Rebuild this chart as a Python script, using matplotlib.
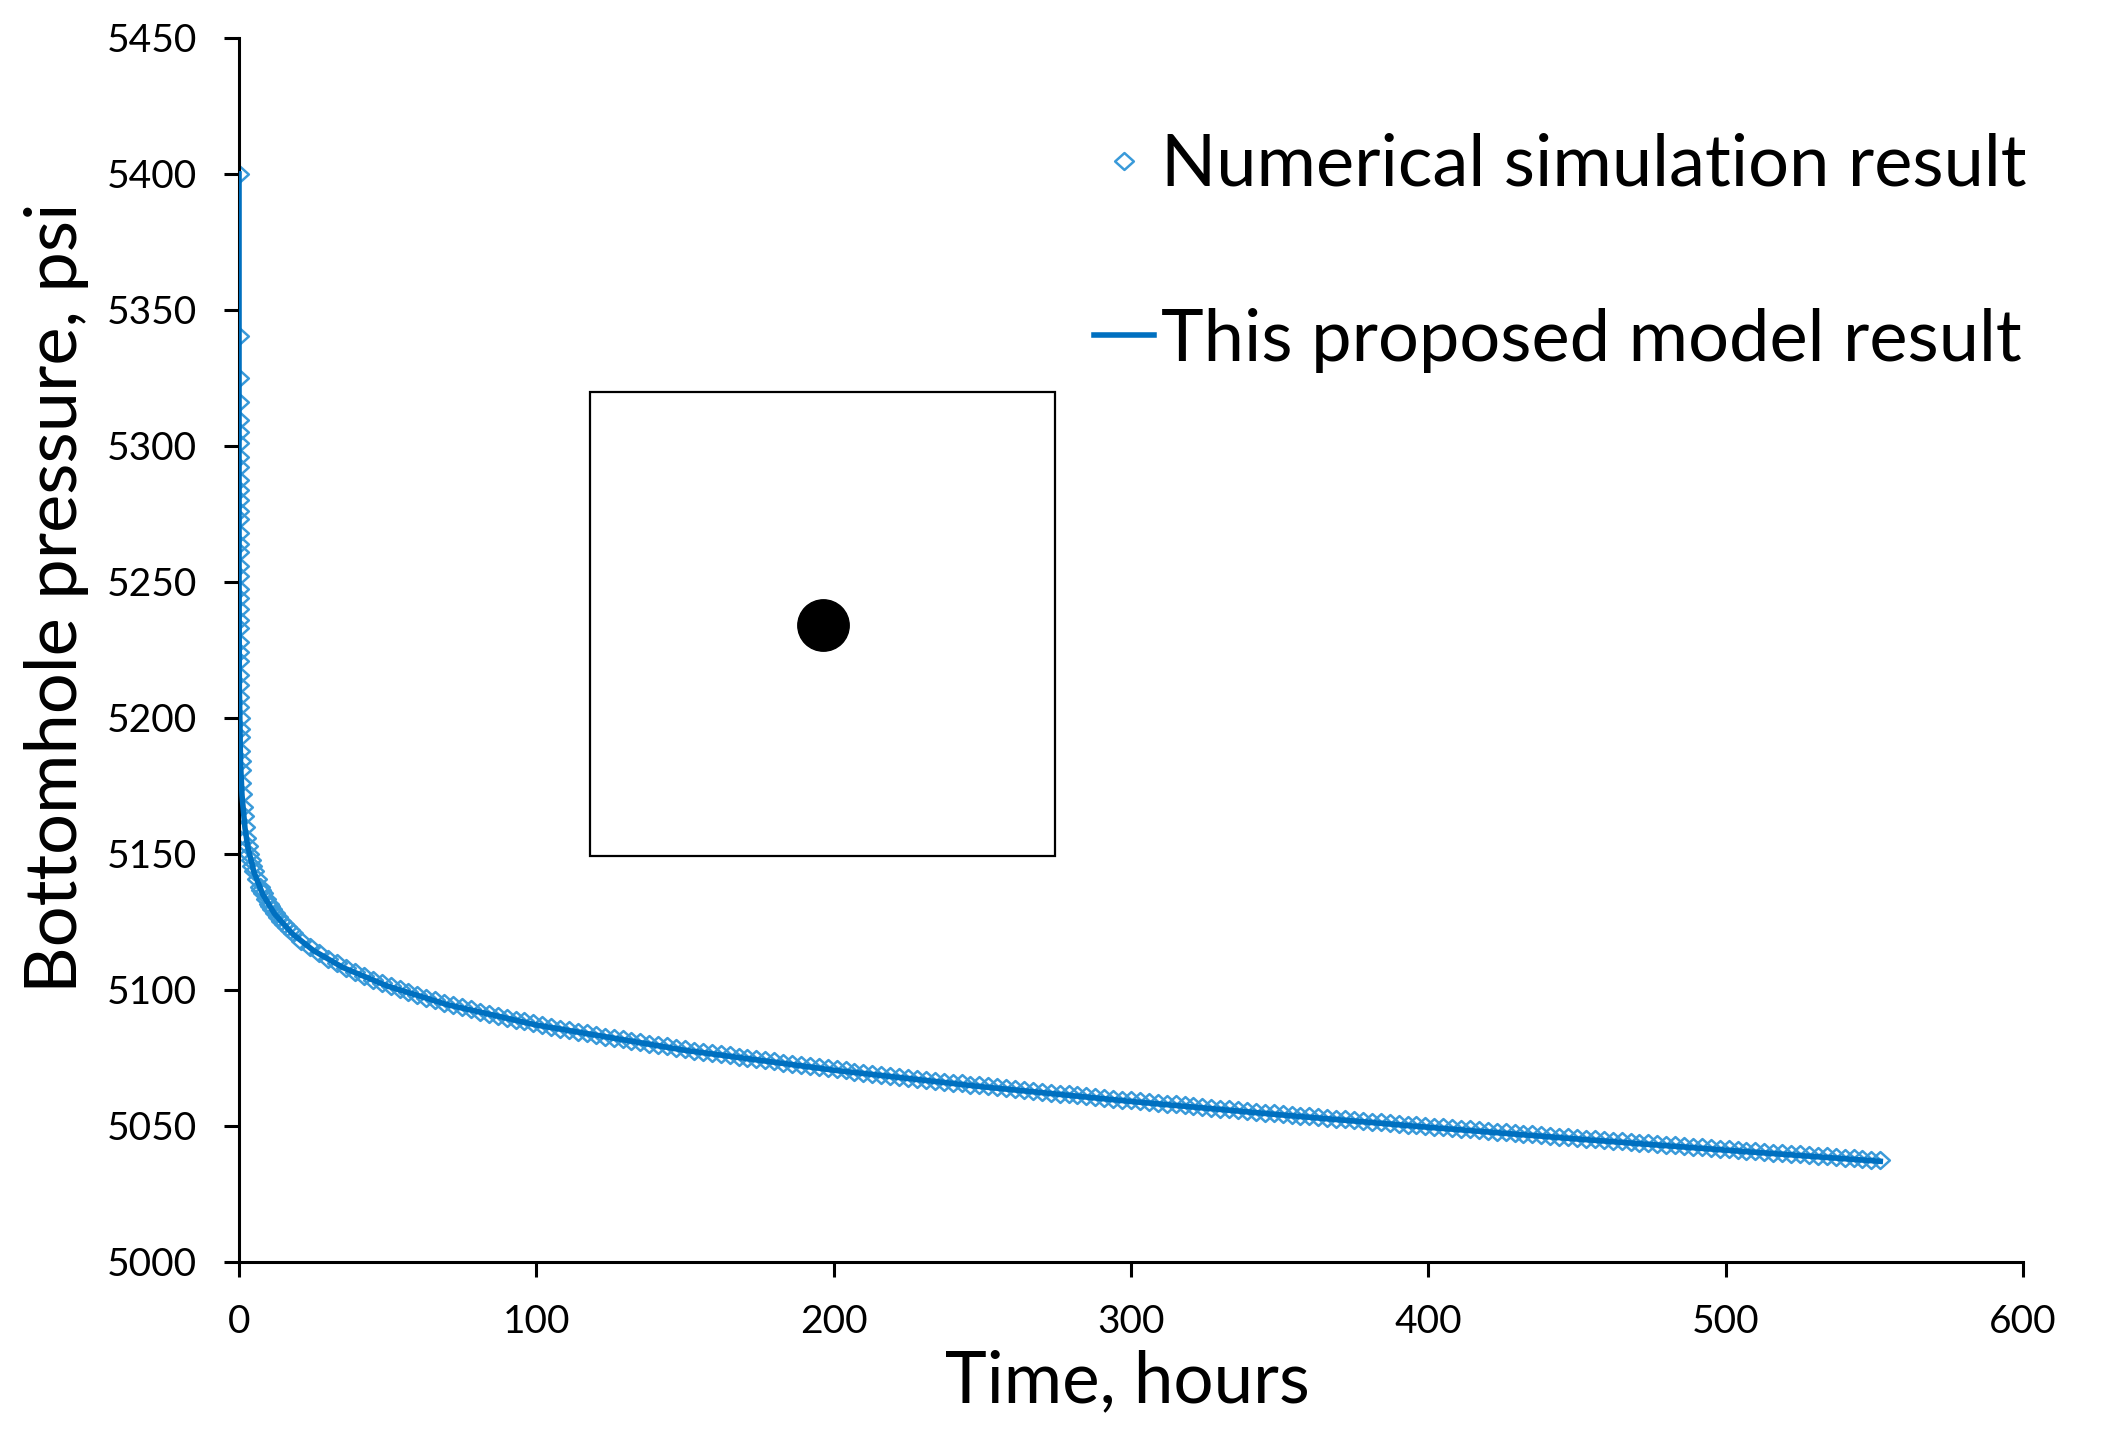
import matplotlib
matplotlib.use("Agg")
import matplotlib.pyplot as plt
from matplotlib.path import Path
from matplotlib.patches import Rectangle

plt.rcParams['font.family'] = ['Lato', 'DejaVu Sans']

# ---------------- data ----------------
# Numerical simulation result (time in hours, bottomhole pressure in psi)
sim_time = [
    0, 0.000062, 0.00015, 0.00025, 0.00036, 0.00048, 0.0006,
    0.0008, 0.001, 0.0013, 0.0016, 0.002, 0.0025, 0.003, 0.004, 0.005, 0.006,
    0.008, 0.01, 0.013, 0.016, 0.02, 0.025, 0.03, 0.04, 0.05, 0.06, 0.08, 0.1,
    0.13, 0.16, 0.2, 0.25, 0.3, 0.4, 0.5, 0.6, 0.8, 1.0, 1.3, 1.6, 2.0, 2.5,
    3, 3.5, 4, 4.5, 5, 6, 7, 7.5, 8, 9, 10, 10.5, 11, 12, 13, 14, 15, 16, 17,
    18, 21, 24, 27, 30, 33, 36, 39, 42, 45, 48, 51, 54, 57, 60,
    63, 66, 69, 72, 75, 78, 81, 84, 87, 90, 93, 96, 99, 102, 105, 108, 111, 114,
    117, 120, 123, 126, 129, 132, 135, 138, 141, 144, 147, 150, 153, 156, 159,
    162, 165, 168, 171, 174, 177, 180, 183, 186, 189, 192, 195, 198, 201, 204,
    207, 210, 213, 216, 219, 222, 225, 228, 231, 234, 237, 240, 243, 246, 249,
    252, 255, 258, 261, 264, 267, 270, 273, 276, 279, 282, 285, 288, 291, 294,
    297, 300, 303, 306, 309, 312, 315, 318, 321, 324, 327, 330, 333, 336, 339,
    342, 345, 348, 351, 354, 357, 360, 363, 366, 369, 372, 375, 378, 381, 384,
    387, 390, 393, 396, 399, 402, 405, 408, 411, 414, 417, 420, 423, 426, 429,
    432, 435, 438, 441, 444, 447, 450, 453, 456, 459, 462, 465, 468, 471, 474,
    477, 480, 483, 486, 489, 492, 495, 498, 501, 504, 507, 510, 513, 516, 519,
    522, 525, 528, 531, 534, 537, 540, 543, 546, 549, 552,
]
sim_pressure = [
    5400.0, 5340.4, 5325.0, 5316.0, 5309.6, 5305.0, 5301.0,
    5295.9, 5292.1, 5287.5, 5283.9, 5280.0, 5276.1, 5273.0, 5268.0, 5264.1, 5260.9,
    5255.9, 5252.0, 5247.5, 5243.9, 5240.0, 5236.1, 5233.0, 5227.9, 5224.1, 5220.9,
    5215.9, 5212.0, 5207.5, 5203.9, 5200.0, 5196.1, 5192.9, 5187.9, 5184.0, 5180.9,
    5175.9, 5172.0, 5167.4, 5163.8, 5159.9, 5156.0,
    5152.8, 5150.1, 5147.7, 5145.7, 5143.8, 5140.6, 5137.9, 5136.6, 5135.5, 5133.4,
    5131.5, 5130.7, 5129.8, 5128.3, 5126.8, 5125.5, 5124.3, 5123.1, 5122.0,
    5121.0, 5118.1, 5115.7, 5113.5, 5111.5,
    5109.8, 5108.1, 5106.6, 5105.2, 5103.8, 5102.6, 5101.4, 5100.2, 5099.2, 5098.1,
    5097.2, 5096.2, 5095.3, 5094.4, 5093.6, 5092.8, 5092.0, 5091.2, 5090.5, 5089.8,
    5089.0, 5088.4, 5087.7, 5087.0, 5086.4, 5085.8, 5085.2, 5084.6, 5084.0, 5083.4,
    5082.8, 5082.3, 5081.8, 5081.2, 5080.7, 5080.2, 5079.7, 5079.2, 5078.7, 5078.2,
    5077.7, 5077.2, 5076.8, 5076.3, 5075.9, 5075.4, 5075.0, 5074.5, 5074.1, 5073.7,
    5073.2, 5072.8, 5072.4, 5072.0, 5071.6, 5071.2, 5070.8, 5070.4, 5070.0, 5069.6,
    5069.2, 5068.8, 5068.5, 5068.1, 5067.7, 5067.3, 5067.0, 5066.6, 5066.3, 5065.9,
    5065.6, 5065.2, 5064.9, 5064.5, 5064.2, 5063.9, 5063.5, 5063.2, 5062.9, 5062.5,
    5062.2, 5061.9, 5061.6, 5061.3, 5060.9, 5060.6, 5060.3, 5060.0, 5059.7, 5059.4,
    5059.1, 5058.8, 5058.5, 5058.2, 5057.9, 5057.6, 5057.3, 5057.0, 5056.7, 5056.4,
    5056.1, 5055.8, 5055.5, 5055.2, 5054.9, 5054.7, 5054.4, 5054.1, 5053.8, 5053.5,
    5053.3, 5053.0, 5052.7, 5052.4, 5052.2, 5051.9, 5051.6, 5051.3, 5051.1, 5050.8,
    5050.5, 5050.3, 5050.0, 5049.7, 5049.5, 5049.2, 5048.9, 5048.7, 5048.4, 5048.2,
    5047.9, 5047.6, 5047.4, 5047.1, 5046.9, 5046.6, 5046.4, 5046.1, 5045.8, 5045.6,
    5045.3, 5045.1, 5044.8, 5044.6, 5044.3, 5044.1, 5043.8, 5043.6, 5043.3, 5043.1,
    5042.8, 5042.6, 5042.3, 5042.1, 5041.9, 5041.6, 5041.4, 5041.1, 5040.9, 5040.7,
    5040.4, 5040.2, 5039.9, 5039.7, 5039.5, 5039.2, 5039.0, 5038.8, 5038.5, 5038.3,
    5038.1, 5037.8, 5037.6, 5037.4,
]

# Proposed model result
model_time = [0, 0.0001, 0.001, 0.01, 0.1, 0.5, 1, 2, 3, 5, 8, 12, 18, 25, 35,
              50, 70, 100, 150, 200, 250, 300, 350, 400, 450, 500, 552]
model_pressure = [5400.0, 5331.5, 5291.7, 5251.6, 5211.6, 5183.6, 5171.6, 5159.5,
                  5152.4, 5143.4, 5135.1, 5127.9, 5120.6, 5114.5, 5108.2, 5101.4,
                  5094.6, 5087.1, 5077.8, 5070.5, 5064.4, 5059.0, 5054.1, 5049.5,
                  5045.2, 5041.1, 5037.0]

x_ticks = [0, 100, 200, 300, 400, 500, 600]
y_ticks = [5000, 5050, 5100, 5150, 5200, 5250, 5300, 5350, 5400, 5450]

labels = ["Numerical simulation result", "This proposed model result"]

# ---------------- figure ----------------
fig = plt.figure(figsize=(21.04, 14.45), dpi=100)
ax = fig.add_axes([0.1136, 0.1267, 0.8479, 0.8471])

diamond = Path([(0, 0.9), (1, 0), (0, -0.9), (-1, 0), (0, 0.9)],
               [Path.MOVETO, Path.LINETO, Path.LINETO, Path.LINETO, Path.CLOSEPOLY])

marker_color = '#3A9AD9'
line_color = '#0070C0'

ax.plot(sim_time, sim_pressure, linestyle='none', marker=diamond, markersize=13.5,
        markerfacecolor='none', markeredgecolor=marker_color, markeredgewidth=1.8,
        label=labels[0], zorder=2)
ax.plot(model_time, model_pressure, color=line_color, lw=4.0, label=labels[1],
        zorder=3)

ax.set_xlim(0, 600)
ax.set_ylim(5000, 5450)
ax.set_xticks(x_ticks)
ax.set_yticks(y_ticks)

for s in ['top', 'right']:
    ax.spines[s].set_visible(False)
for s in ['left', 'bottom']:
    ax.spines[s].set_linewidth(2.2)
    ax.spines[s].set_color('black')

ax.tick_params(axis='both', direction='out', length=11, width=2.2,
               labelsize=28, pad=19, colors='black')

ax.set_xlabel("Time, hours", fontsize=51)
ax.set_ylabel("Bottomhole pressure, psi", fontsize=52)
ax.xaxis.set_label_coords(0.498, -0.071)
ax.yaxis.set_label_coords(-0.084, 0.543)

# inset schematic: square reservoir with a well
ax.add_patch(Rectangle((0.1967, 0.3317), 0.4574 - 0.1967, 0.7108 - 0.3317,
                       transform=ax.transAxes, fill=False, edgecolor='black',
                       linewidth=1.6, zorder=4))
ax.plot([0.3271], [0.5202], marker='o', markersize=37, color='black',
        transform=ax.transAxes, zorder=5)

leg = ax.legend(loc='upper left', bbox_to_anchor=(0.52, 0.908),
                bbox_transform=fig.transFigure, frameon=False, fontsize=52,
                handlelength=0.83, handletextpad=0.1, labelspacing=1.52,
                borderpad=0, borderaxespad=0)

fig.savefig("out.png", dpi=100, facecolor='white')
